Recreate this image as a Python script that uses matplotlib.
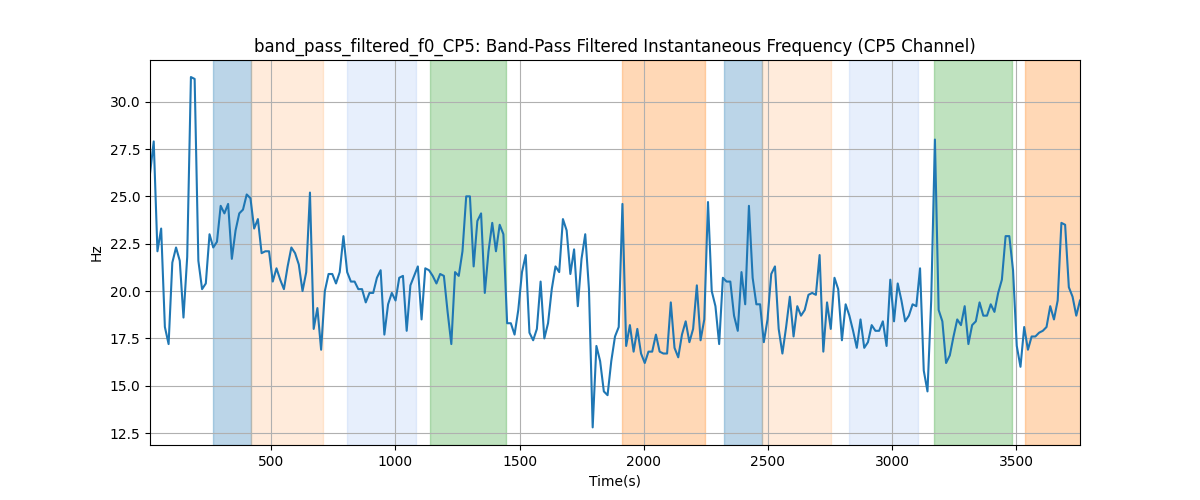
import numpy as np
import matplotlib.pyplot as plt

# instantaneous frequency values (Hz)
freq = [26.2, 27.9, 22.1, 23.3, 18.1, 17.2, 21.5, 22.3, 21.6, 18.6, 21.8, 31.3, 31.2, 21.6, 20.1, 20.4,
        23.0, 22.3, 22.6, 24.5, 24.1, 24.6, 21.7, 23.2, 24.1, 24.3, 25.1, 24.9, 23.3, 23.8, 22.0, 22.1,
        22.1, 20.5, 21.2, 20.6, 20.1, 21.3, 22.3, 22.0, 21.4, 20.0, 21.0, 25.2, 18.0, 19.1, 16.9, 20.0,
        20.9, 20.9, 20.4, 21.0, 22.9, 21.0, 20.5, 20.5, 20.1, 20.1, 19.4, 19.9, 19.9, 20.7, 21.1, 17.7,
        19.3, 19.9, 19.5, 20.7, 20.8, 17.9, 20.3, 20.8, 21.3, 18.5, 21.2, 21.1, 20.8, 20.4, 20.9, 20.8,
        18.9, 17.2, 21.0, 20.8, 22.1, 25.0, 25.0, 21.3, 23.7, 24.1, 19.9, 22.1, 23.6, 22.1, 23.5, 23.0,
        18.3, 18.3, 17.7, 19.0, 21.0, 21.9, 17.8, 17.4, 18.0, 20.5, 17.5, 18.3, 20.1, 21.3, 21.0, 23.8,
        23.2, 20.9, 22.2, 19.2, 21.7, 23.0, 20.1, 12.8, 17.1, 16.3, 14.7, 14.5, 16.3, 17.6, 18.1,
        24.6, 17.1, 18.2, 16.8, 18.0, 16.7, 16.2, 16.8, 16.8, 17.7, 16.8, 16.7, 16.7, 19.4, 17.0, 16.5,
        17.7, 18.4, 17.3, 18.0, 20.3, 17.4, 18.5, 24.7, 20.0, 19.2, 17.2, 20.7, 20.5, 20.5, 18.7, 17.9,
        21.0, 19.3, 24.5, 20.7, 19.3, 19.3, 17.3, 18.5, 20.9, 21.3, 18.0, 16.7, 18.1, 19.7, 17.6, 19.2,
        18.7, 19.0, 19.8, 19.9, 19.8, 21.9, 16.8, 19.4, 18.0, 20.7, 20.1, 17.4, 19.3, 18.7, 17.9, 17.0,
        18.5, 17.0, 17.3, 18.2, 17.9, 17.9, 18.4, 17.1, 20.6, 18.4, 20.4, 19.5, 18.4, 18.7, 19.3, 19.2,
        21.2, 15.8, 14.7, 19.5, 28.0, 19.0, 18.4, 16.2, 16.6, 17.6, 18.5, 18.2, 19.2, 17.2, 18.2, 18.4,
        19.4, 18.7, 18.7, 19.3, 18.9, 19.9, 20.6, 22.9, 22.9, 21.1, 17.1, 16.0, 18.1, 16.9, 17.6, 17.6,
        17.8, 17.9, 18.1, 19.2, 18.5, 19.5, 23.6, 23.5, 20.2, 19.7, 18.7, 19.5]

t = 12 + 14.98 * np.arange(len(freq))

# shaded intervals (start, end, colour, alpha)
span_starts = [266, 419, 806, 1141, 1911, 2323, 2476, 2827, 3169, 3536]
span_ends = [419, 710, 1085, 1444, 2246, 2476, 2754, 3105, 3484, 3800]
span_colors = ['tab:blue', 'tab:orange', 'cornflowerblue', 'tab:green', 'tab:orange',
               'tab:blue', 'tab:orange', 'cornflowerblue', 'tab:green', 'tab:orange']
span_alphas = [0.3, 0.15, 0.15, 0.3, 0.3, 0.3, 0.15, 0.15, 0.3, 0.3]

fig, ax = plt.subplots(figsize=(12, 5), dpi=100)
for s, e, c, a in zip(span_starts, span_ends, span_colors, span_alphas):
    ax.axvspan(s, e, color=c, alpha=a)
ax.plot(t, freq, color='tab:blue')
ax.set_xlim(t[0], t[-1])
ax.set_ylim(11.87, 32.2)
ax.grid(True)
ax.set_xlabel('Time(s)')
ax.set_ylabel('Hz')
ax.set_title('band_pass_filtered_f0_CP5: Band-Pass Filtered Instantaneous Frequency (CP5 Channel)')
plt.savefig('out.png')
